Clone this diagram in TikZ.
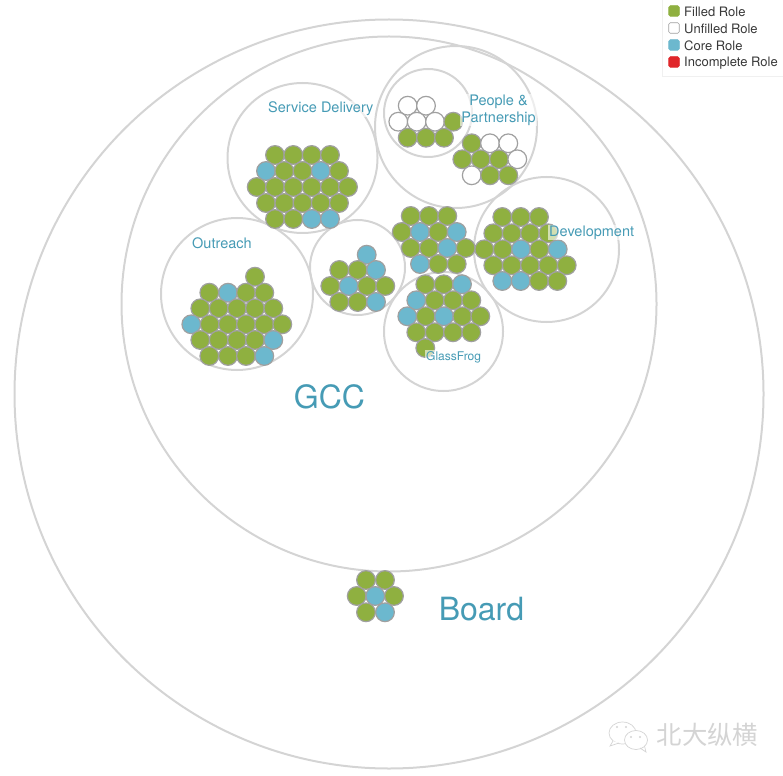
\documentclass[tikz,border=0pt]{standalone}
\usepackage{fontspec}
\setmainfont{TeX Gyre Heros}
\newfontfamily\cjk{Noto Sans CJK SC}
\definecolor{rolegreen}{RGB}{143, 176, 64}
\definecolor{roleblue}{RGB}{108, 184, 206}
\definecolor{rolered}{RGB}{224, 38, 42}
\definecolor{rolerim}{RGB}{160, 160, 160}
\definecolor{ringgray}{RGB}{212, 212, 212}
\definecolor{labelteal}{RGB}{70, 155, 181}
\definecolor{marktext}{RGB}{212, 212, 212}

\begin{document}
\begin{tikzpicture}[x=1pt, y=-1pt,
    ring/.style={draw=ringgray, line width=2pt},
    role_f/.style={circle, draw=rolerim, line width=1.2pt, fill=rolegreen,
        minimum size=18.7pt, inner sep=0pt},
    role_u/.style={role_f, fill=white},
    role_c/.style={role_f, fill=roleblue},
    tlabel/.style={text=labelteal, inner sep=1pt, fill=white, fill opacity=0.6,
        text opacity=1, font=\fontsize{14.5}{17}\selectfont},
    biglabel/.style={text=labelteal, inner sep=0pt, font=\fontsize{32}{36}\selectfont},
    swatch/.style={draw=#1, fill=#1, rounded corners=1.5pt, line width=0.6pt,
        minimum size=10.5pt, inner sep=0pt},
    legtext/.style={anchor=west, inner sep=0pt, text=black!78,
        font=\fontsize{13}{14}\selectfont},
]
\useasboundingbox (0,0) rectangle (783,775);

% --- Circulos ---
\draw[ring] (389,394) circle (374.5);
\draw[ring] (389,304) circle (267.5);
\draw[ring] (302.5,158) circle (75);
\draw[ring] (456,127) circle (81);
\draw[ring] (428,113) circle (44);
\draw[ring] (237,294) circle (76);
\draw[ring] (357.5,267.5) circle (47.5);
\draw[ring] (546.5,249.5) circle (72.5);
\draw[ring] (443.5,331.5) circle (59.5);

% --- Service Delivery ---
\foreach \px/\py/\kind [count=\i] in {
    275/155/role_f, 293.3/155/role_f, 311.7/155/role_f, 330/155/role_f,
    266/171/role_c, 284.3/171/role_f, 302.5/171/role_f, 320.7/171/role_c, 339/171/role_f,
    256.7/187/role_f, 275/187/role_f, 293.3/187/role_f, 311.7/187/role_f, 330/187/role_f, 348/187/role_f,
    266/203/role_f, 284.3/203/role_f, 302.5/203/role_f, 320.7/203/role_f, 339/203/role_f,
    275/219/role_f, 293.3/219/role_f, 311.7/219/role_c, 330/219/role_c}
    \node[\kind] (sd\i) at (\px,\py) {};

% --- Outreach ---
\foreach \px/\py/\kind [count=\i] in {
    255/276.7/role_f,
    209.3/292.7/role_f, 228/292.7/role_c, 246/292.7/role_f, 264.3/292.7/role_f,
    200.3/308.3/role_f, 218.7/308.3/role_f, 237/308.3/role_f, 255/308.3/role_f, 273.3/308.3/role_f,
    191.3/324.3/role_c, 209.7/324.3/role_f, 228/324.3/role_f, 246/324.3/role_f, 264.3/324.3/role_f, 282.3/324.3/role_f,
    200.3/340/role_f, 218.7/340/role_f, 237/340/role_f, 255/340/role_f, 273.3/340/role_c,
    209.3/356/role_f, 228/356/role_f, 246/356/role_f, 264.3/356/role_c}
    \node[\kind] (ou\i) at (\px,\py) {};

% --- Circulo sin etiqueta ---
\foreach \px/\py/\kind [count=\i] in {
    366.7/254.7/role_c,
    339.3/270/role_f, 357.7/270/role_f, 376/270/role_c,
    330.3/286/role_f, 348.7/286/role_c, 367/286/role_f, 385.3/286/role_f,
    339.3/302/role_f, 357.7/302/role_f, 376/302/role_c}
    \node[\kind] (mi\i) at (\px,\py) {};

% --- Grupo central ---
\foreach \px/\py/\kind [count=\i] in {
    410.7/216/role_f, 429/216/role_f, 447.3/216/role_f,
    401.7/232/role_f, 420/232/role_c, 438.3/232/role_f, 456.7/232/role_c,
    410.7/248/role_f, 429/248/role_f, 447.3/248/role_c, 465.7/248/role_f,
    420/264/role_c, 438.3/264/role_f, 456.7/264/role_f}
    \node[\kind] (ce\i) at (\px,\py) {};

% --- Development ---
\foreach \px/\py/\kind [count=\i] in {
    502.3/217/role_f, 520.7/217/role_f, 539/217/role_f,
    493.3/233.3/role_f, 511.7/233.3/role_f, 530/233.3/role_f, 548.3/233.3/role_f,
    484.3/249.3/role_f, 502.7/249.3/role_f, 521/249.3/role_c, 539.3/249.3/role_f, 557.7/249.3/role_c,
    493.3/265.3/role_f, 511.7/265.3/role_f, 530/265.3/role_f, 548.3/265.3/role_f, 566.7/265.3/role_f,
    502.3/281/role_c, 520.7/281/role_c, 539/281/role_f, 557.3/281/role_f}
    \node[\kind] (de\i) at (\px,\py) {};

% --- GlassFrog ---
\foreach \px/\py/\kind [count=\i] in {
    425.3/284.3/role_f, 443.7/284.3/role_f, 462/284.3/role_c,
    416.3/300.3/role_c, 434.7/300.3/role_f, 453/300.3/role_f, 471.3/300.3/role_f,
    407.3/316.3/role_c, 425.7/316.3/role_f, 444/316.3/role_c, 462.3/316.3/role_f, 480.3/316.3/role_f,
    416.3/332.3/role_f, 434.7/332.3/role_f, 453/332.3/role_f, 471.3/332.3/role_f,
    425.3/348/role_f}
    \node[\kind] (gf\i) at (\px,\py) {};

% --- People & Partnership ---
\foreach \px/\py/\kind [count=\i] in {
    407.7/105.7/role_u, 426/105.7/role_u,
    398.3/121.7/role_u, 416.7/121.7/role_u, 435/121.7/role_u, 453.3/121.7/role_f,
    407.7/137.7/role_f, 426/137.7/role_f, 444/137.7/role_f,
    471.7/143.3/role_f, 490/143.3/role_u, 508.3/143.3/role_u,
    462.3/159.3/role_f, 480.7/159.3/role_f, 499/159.3/role_f, 517.3/159.3/role_u,
    471.7/175.3/role_u, 490/175.3/role_f, 508.3/175.3/role_f}
    \node[\kind] (pp\i) at (\px,\py) {};

% --- Board ---
\foreach \px/\py/\kind [count=\i] in {
    366/580/role_f, 385/580/role_f,
    356.7/596/role_f, 375.3/596/role_c, 394/596/role_f,
    366/612.3/role_f, 385/612.3/role_c}
    \node[\kind] (bo\i) at (\px,\py) {};

% --- Etiquetas ---
\node[tlabel, anchor=west] (lsd) at (267,109) {Service Delivery};
\node[tlabel, anchor=west] (lou) at (191,243.5) {Outreach};
\node[tlabel, anchor=center, align=center] (lpp) at (498.5,110) {People \&\\Partnership};
\node[tlabel, anchor=west] (lde) at (548,232.5) {Development};
\node[tlabel, anchor=west, font=\fontsize{12}{14}\selectfont] (lgf) at (425,357) {GlassFrog};
\node[biglabel] (lgcc) at (329.5,397) {GCC};
\node[biglabel] (lbo) at (481.5,609) {Board};

% --- Leyenda ---
\node[draw=black!6, fill=white, line width=0.6pt, minimum width=124pt, minimum height=79pt,
    inner sep=0pt, anchor=north west] (legend) at (662,-3) {};
\node[swatch=rolegreen] (sw1) at (674,11) {};
\node[swatch=rolerim, fill=white] (sw2) at (674,28) {};
\node[swatch=roleblue] (sw3) at (674,45) {};
\node[swatch=rolered] (sw4) at (674,62) {};
\node[legtext] (lg1) at (684,12) {Filled Role};
\node[legtext] (lg2) at (684,29) {Unfilled Role};
\node[legtext] (lg3) at (684,46) {Core Role};
\node[legtext] (lg4) at (684,63) {Incomplete Role};

% --- Marca de agua ---
\draw[marktext, fill=white, line width=0.7pt] (622.5,733) ellipse (13.5 and 11);
\draw[marktext, fill=white, line width=0.7pt] (613,741) -- (610,746) -- (619,743);
\draw[marktext, fill=white, line width=0.7pt] (636,740) ellipse (11.5 and 9.5);
\draw[marktext, line width=0.7pt] (640,748) -- (646,752) -- (644.5,746);
\fill[marktext] (617,727) circle (1.2) (626,727) circle (1.2) (631,737) circle (1.2) (640,737) circle (1.2);
\node[text=marktext, inner sep=0pt, font=\cjk\fontsize{25.4}{28}\selectfont] (mark) at (707.5,735) {北大纵横};
\end{tikzpicture}
\end{document}
